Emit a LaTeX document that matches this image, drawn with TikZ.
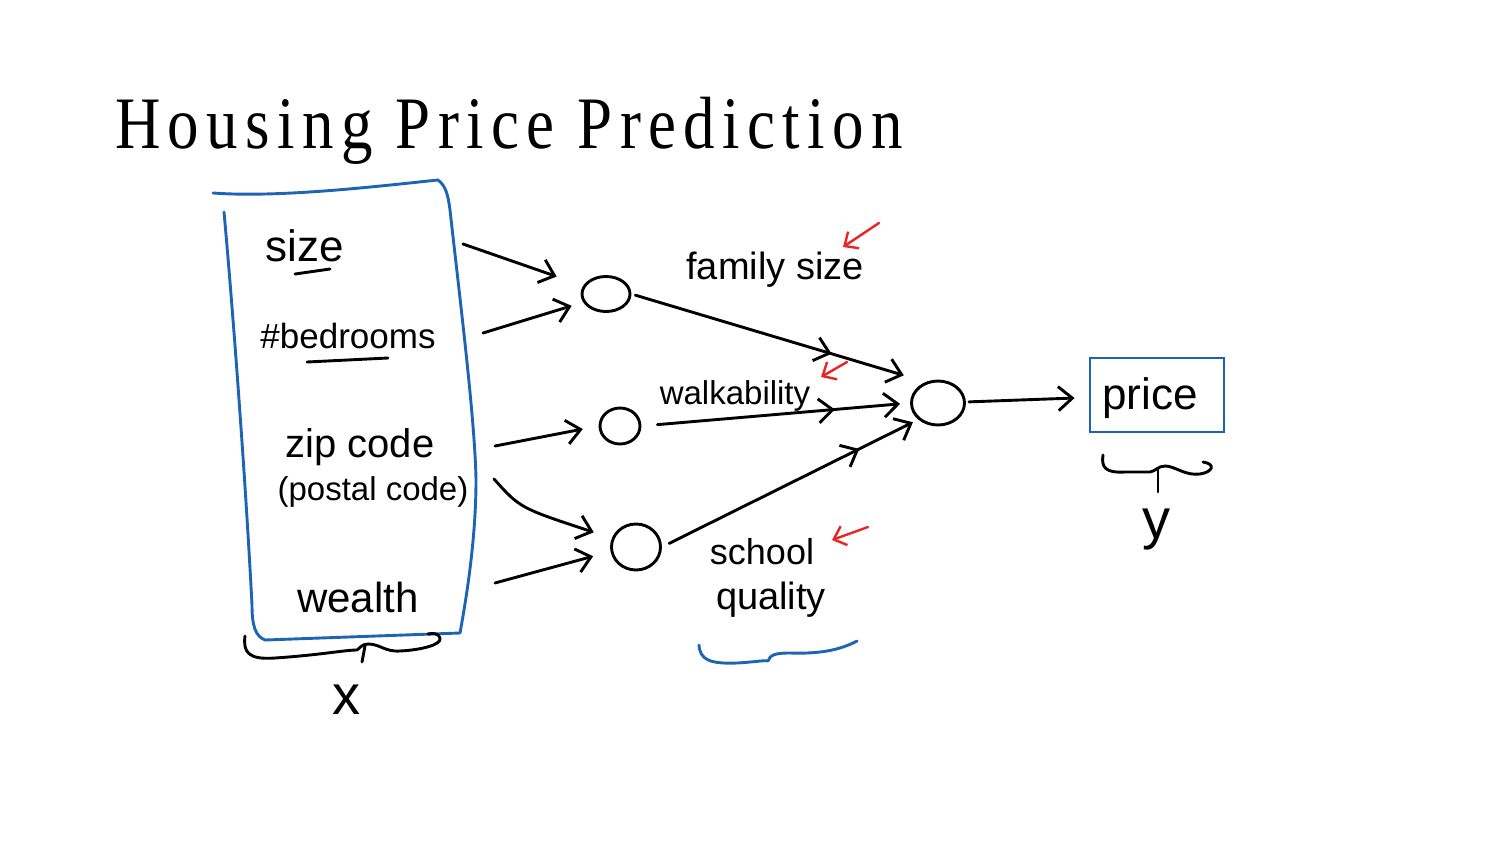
\documentclass[tikz,border=0pt]{standalone}
\usepackage{fontspec}
\setmainfont{Liberation Serif}
\newfontfamily\titlefont{Liberation Serif}[FakeStretch=0.85,LetterSpace=10]
\newfontfamily\hand{Liberation Sans}
\usetikzlibrary{arrows.meta,shapes.geometric,decorations.markings}
\definecolor{penblue}{RGB}{30,100,180}
\definecolor{penred}{RGB}{235,35,35}
\tikzset{
  ink/.style={line width=2.9pt, line cap=round, line join=round},
  blueink/.style={ink, draw=penblue},
  hand/.style={font=\hand\fontsize{38}{40}\selectfont, inner sep=0pt},
  arr/.style={ink, -{Straight Barb[length=14pt,width=24pt]}},
  redarr/.style={line width=2.4pt, line cap=round, draw=penred, -{Straight Barb[length=11pt,width=20pt]}},
  unit/.style={ellipse, draw, line width=2.9pt, inner sep=0pt},
  midarrow/.style={postaction={decorate}, decoration={markings, mark=at position #1 with {\arrow{Straight Barb[length=14pt,width=24pt]}}}},
  pbox/.style={rectangle, draw=penblue, line width=2.9pt, minimum width=134pt, minimum height=74pt, inner sep=0pt}
}
\begin{document}
\begin{tikzpicture}[x=1pt,y=-1pt]
\useasboundingbox (0,0) rectangle (1504,846);

% title
\node[anchor=base west, inner sep=0pt, font=\titlefont\fontsize{74}{80}\selectfont] (title) at (115,148) {Housing Price Prediction};

% input box
\draw[blueink] (213,193) .. controls (280,198) and (380,186) .. (438,180)
  .. controls (446,186) and (448,195) .. (450,210)
  .. controls (460,300) and (475,420) .. (476,480)
  .. controls (476,540) and (466,600) .. (460,633)
  -- (265,640) .. controls (255,636) and (252,625) .. (252,605)
  .. controls (245,470) and (232,300) .. (224,212);

% input labels
\node[hand, font=\hand\fontsize{44}{46}\selectfont] (size) at (305,246) {size};
\draw[ink] (295,274) -- (330,269);
\node[hand, font=\hand\fontsize{35}{38}\selectfont] (bed) at (348,336) {\#bedrooms};
\draw[ink] (307,362) -- (388,358);
\node[hand, font=\hand\fontsize{40}{42}\selectfont] (zip) at (360,447) {zip code};
\node[hand, font=\hand\fontsize{33}{36}\selectfont] (postal) at (373,492) {(postal code)};
\node[hand, font=\hand\fontsize{42}{44}\selectfont] (wealth) at (358,597) {wealth};

% x brace
\draw[ink] (245,636) .. controls (243,652) and (248,660) .. (275,658)
  .. controls (320,655) and (345,650) .. (357,650)
  .. controls (360,648) and (362,644) .. (368,644)
  .. controls (380,644) and (385,652) .. (400,651)
  .. controls (420,650) and (442,645) .. (440,638)
  .. controls (439,633) and (432,633) .. (428,634);
\draw[ink] (365,646) -- (362,662);
\node[hand, font=\hand\fontsize{56}{58}\selectfont] (xlab) at (346,700) {x};

% hidden units
\node[unit, minimum width=48pt, minimum height=35pt] (h1) at (606,294) {};
\node[unit, minimum width=40pt, minimum height=36pt] (h2) at (620,426) {};
\node[unit, minimum width=49pt, minimum height=46pt] (h3) at (636,547) {};
\node[unit, minimum width=53pt, minimum height=44pt] (out) at (938,403) {};

% input arrows
\coordinate (s1) at (463,244);
\coordinate (b1) at (483,333);
\coordinate (z1) at (495,446);
\coordinate (z2) at (494,479);
\coordinate (w1) at (495,583);
\draw[arr, shorten >=28pt] (s1) -- (h1.160);
\draw[arr, shorten >=12pt] (b1) -- (h1.200);
\draw[arr, shorten >=16pt] (z1) -- (h2.180);
\draw[arr, shorten >=19pt] (z2) .. controls (520,508) .. (h3.160);
\draw[arr, shorten >=18pt] (w1) -- (h3.190);

% hidden to output
\draw[arr, shorten <=4pt, shorten >=23pt, midarrow=0.68] (h1.0) -- (out.120);
\draw[arr, shorten <=16pt, shorten >=10pt, midarrow=0.72] (h2.0) -- (out.180);
\draw[arr, shorten <=8pt, shorten >=6pt, midarrow=0.77] (h3.0) -- (out.220);

% hidden labels
\node[hand, font=\hand\fontsize{38}{40}\selectfont] (fam) at (775,270) {family size};
\node[hand, font=\hand\fontsize{33}{36}\selectfont] (walk) at (735,396) {walkability};
\node[hand, font=\hand\fontsize{36}{38}\selectfont] (school) at (762,552) {school};
\node[hand, font=\hand\fontsize{38}{40}\selectfont] (quality) at (771,600) {quality};
\draw[blueink] (699,645) .. controls (700,660) and (710,664) .. (737,663)
  .. controls (755,662) and (765,660) .. (768,661)
  .. controls (770,655) and (775,653) .. (790,653)
  .. controls (820,654) and (840,650) .. (857,641);

% red arrows
\coordinate (r1a) at (879,223); \coordinate (r1b) at (843,247);
\coordinate (r2a) at (847,362); \coordinate (r2b) at (821,377);
\coordinate (r3a) at (868,527); \coordinate (r3b) at (832,540);
\draw[redarr] (r1a) -- (r1b);
\draw[redarr] (r2a) -- (r2b);
\draw[redarr] (r3a) -- (r3b);

% output
\node[pbox] (price) at (1157,395) {};
\node[hand, font=\hand\fontsize{44}{46}\selectfont] (pricelab) at (1150,398) {price};
\draw[arr, shorten <=3pt, shorten >=14pt] (out) -- (price);

% y brace
\draw[ink] (1103,455) .. controls (1101,468) and (1106,473) .. (1125,472)
  -- (1150,472) .. controls (1156,471) and (1158,466) .. (1165,466)
  .. controls (1175,466) and (1185,476) .. (1200,474)
  .. controls (1213,472) and (1216,464) .. (1203,462);
\draw[ink] (1158,470) -- (1158,492);
\node[hand, font=\hand\fontsize{56}{58}\selectfont] (ylab) at (1156,530) {y};
\end{tikzpicture}
\end{document}
